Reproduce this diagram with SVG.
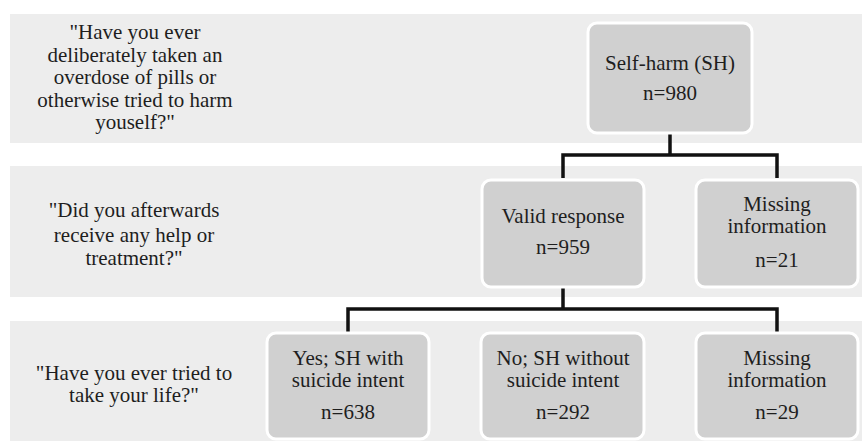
<svg xmlns="http://www.w3.org/2000/svg" width="862" height="441" viewBox="0 0 862 441">
<style>
.band{fill:#ededed}
.node{fill:#d0d0d0;stroke:#ffffff;stroke-width:3}
.t text{text-anchor:middle;fill:#1e1e1e}
.conn{fill:none;stroke:#111;stroke-width:3.5}
</style>
<rect width="862" height="441" fill="#ffffff"/>
<g id="bands">
<rect class="band" x="10" y="14" width="852" height="129"/>
<rect class="band" x="10" y="166" width="852" height="131"/>
<rect class="band" x="10" y="321" width="852" height="120"/>
</g>
<g class="t" font-family="Liberation Serif, Times New Roman, DejaVu Serif, serif" font-size="21">
<g id="questions">
<text x="135" y="39">"Have you ever</text>
<text x="135" y="62">deliberately taken an</text>
<text x="135" y="84">overdose of pills or</text>
<text x="135" y="107">otherwise tried to harm</text>
<text x="135" y="129">youself?"</text>
<text x="134" y="217">"Did you afterwards</text>
<text x="134" y="242">receive any help or</text>
<text x="134" y="265">treatment?"</text>
<text x="134" y="380">"Have you ever tried to</text>
<text x="134" y="402">take your life?"</text>
</g>
<g id="connectors">
<path class="conn" d="M670 133 V155 M563 178 V155 H777 V178"/>
<path class="conn" d="M563 287 V309 M348 333 V309 H777 V333"/>
</g>
<g id="n-sh">
<rect class="node" x="588" y="23" width="164" height="110" rx="9"/>
<text x="670" y="70">Self-harm (SH)</text>
<text x="670" y="100">n=980</text>
</g>
<g id="n-valid">
<rect class="node" x="482" y="180" width="162" height="107" rx="9"/>
<text x="563" y="223">Valid response</text>
<text x="563" y="254">n=959</text>
</g>
<g id="n-miss1">
<rect class="node" x="696" y="180" width="162" height="107" rx="9"/>
<text x="777" y="211">Missing</text>
<text x="777" y="233">information</text>
<text x="777" y="267">n=21</text>
</g>
<g id="n-yes">
<rect class="node" x="267" y="333" width="162" height="106" rx="9"/>
<text x="348" y="365">Yes; SH with</text>
<text x="348" y="387">suicide intent</text>
<text x="348" y="419">n=638</text>
</g>
<g id="n-no">
<rect class="node" x="481" y="333" width="163" height="106" rx="9"/>
<text x="563" y="365">No; SH without</text>
<text x="563" y="387">suicide intent</text>
<text x="563" y="419">n=292</text>
</g>
<g id="n-miss2">
<rect class="node" x="696" y="333" width="162" height="106" rx="9"/>
<text x="777" y="365">Missing</text>
<text x="777" y="387">information</text>
<text x="777" y="419">n=29</text>
</g>
</g>
</svg>
